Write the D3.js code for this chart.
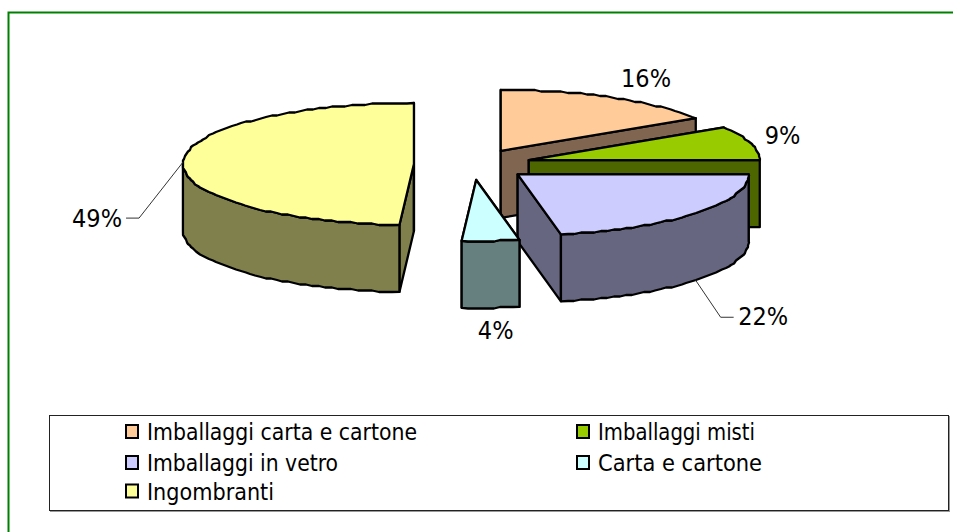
<!DOCTYPE html>
<html><head><meta charset="utf-8">
<style>html,body{margin:0;padding:0;background:#fff}svg{display:block}text{font-family:"DejaVu Sans Condensed","DejaVu Sans",sans-serif;font-stretch:condensed;fill:#000}</style>
<script src="https://cdn.jsdelivr.net/npm/d3@7/dist/d3.min.js"></script>
</head><body>
<svg id="c" width="953" height="532"></svg>
<script>
const categories = ["Imballaggi carta e cartone","Imballaggi misti","Imballaggi in vetro","Carta e cartone","Ingombranti"];
const values = [16,9,22,4,49];
const topColors = ["#FFCC99","#99CC00","#CCCCFF","#CCFFFF","#FFFF99"];
const sideColors = ["#806650","#4D6600","#666680","#668080","#80804D"];
const labels = ["16%","9%","22%","4%","49%"];

const svg = d3.select("#c");
const W=953,H=532;
const cx=472.5, cy=164.5, rx=231, ry=61, depth=67, ex=58.6, ey=15.5;
const labelShift=[[34,-20],[32,-9],[67.5,35.5],[5,21.5],[-86,55.5]];
const leaderElbow=[null,null,[25,37],null,[-44,56]];
const leaderTail=[0,0,13,0,-13];
const legendLengths=[270,157,191,164,127];

svg.append("path").attr("d",`M8.5,${H} V12.5 H${W}`).attr("fill","none").attr("stroke","#008000").attr("stroke-width",2);

const arcs=d3.pie().sort(null).startAngle(0).endAngle(2*Math.PI)(values);
function rim(a0,a1,c){
  const pos=d3.scaleLinear().domain([0,1]).range([a0,a1]);
  const n=Math.max(2,Math.ceil(Math.abs(a1-a0)*rx/7)),pts=[];
  for(let i=0;i<=n;i++){
    const a=pos(i/n);
    const p=[c[0]+rx*Math.sin(a),c[1]-ry*Math.cos(a)];
    pts.push(i===0||i===n?p:[Math.round(p[0]),Math.round(p[1]/1.5)*1.5]);
  }
  return pts;
}
const line=d3.line();
function draw(pts,fill){
  svg.append("path").attr("d",line(pts)+"Z").attr("fill",fill)
    .attr("stroke","#000").attr("stroke-width",2.3).attr("stroke-linejoin","round");
}
arcs.forEach((d,i)=>{
  const mid=(d.startAngle+d.endAngle)/2;
  const c=[cx+ex*Math.sin(mid),cy-ey*Math.cos(mid)];
  const P=a=>[c[0]+rx*Math.sin(a),c[1]-ry*Math.cos(a)];
  const dn=p=>[p[0],p[1]+depth];
  [d.startAngle,d.endAngle].forEach(a=>{
    const e=P(a);
    draw([c,e,dn(e),dn(c)],sideColors[i]);
  });
  const f0=Math.max(d.startAngle,Math.PI/2), f1=Math.min(d.endAngle,3*Math.PI/2);
  if(f1>f0){
    const t=rim(f0,f1,c);
    draw(t.concat(t.map(dn).reverse()),sideColors[i]);
  }
  draw([c].concat(rim(d.startAngle,d.endAngle,c)),topColors[i]);
});
arcs.forEach((d,i)=>{
  const mid=(d.startAngle+d.endAngle)/2;
  const c=[cx+ex*Math.sin(mid),cy-ey*Math.cos(mid)];
  const front=Math.cos(mid)<0 && Math.abs(Math.sin(mid))<0.9;
  const a=[c[0]+rx*Math.sin(mid),c[1]-ry*Math.cos(mid)+(front?depth:0)];
  if(leaderElbow[i]){
    const e=[a[0]+leaderElbow[i][0],a[1]+leaderElbow[i][1]];
    svg.append("path").attr("d",line([a,e,[e[0]+leaderTail[i],e[1]]])).attr("fill","none").attr("stroke","#333").attr("stroke-width",1);
  }
  svg.append("text").attr("x",a[0]+labelShift[i][0]).attr("y",a[1]+labelShift[i][1]+9.5)
    .attr("text-anchor","middle").attr("font-size",25).text(labels[i]);
});
svg.append("rect").attr("x",50.5).attr("y",416.5).attr("width",899).attr("height",95).attr("fill","none").attr("stroke","#999").attr("stroke-width",1);
svg.append("rect").attr("x",49.5).attr("y",415.5).attr("width",899).attr("height",95).attr("fill","#fff").attr("stroke","#222").attr("stroke-width",1);
const legX=d3.scaleOrdinal().domain([0,1]).range([125,576]);
const legY=d3.scaleOrdinal().domain([0,1,2]).range([431.5,462.5,491]);
categories.forEach((n,i)=>{
  const col=i%2,row=Math.floor(i/2);
  svg.append("rect").attr("x",legX(col)+1).attr("y",legY(row)-6.5).attr("width",12).attr("height",13)
    .attr("fill",topColors[i]).attr("stroke","#000").attr("stroke-width",2);
  svg.append("text").attr("x",legX(col)+22).attr("y",legY(row)+8.5).attr("font-size",23)
    .attr("textLength",legendLengths[i]).attr("lengthAdjust","spacingAndGlyphs").text(n);
});
</script>
</body></html>
